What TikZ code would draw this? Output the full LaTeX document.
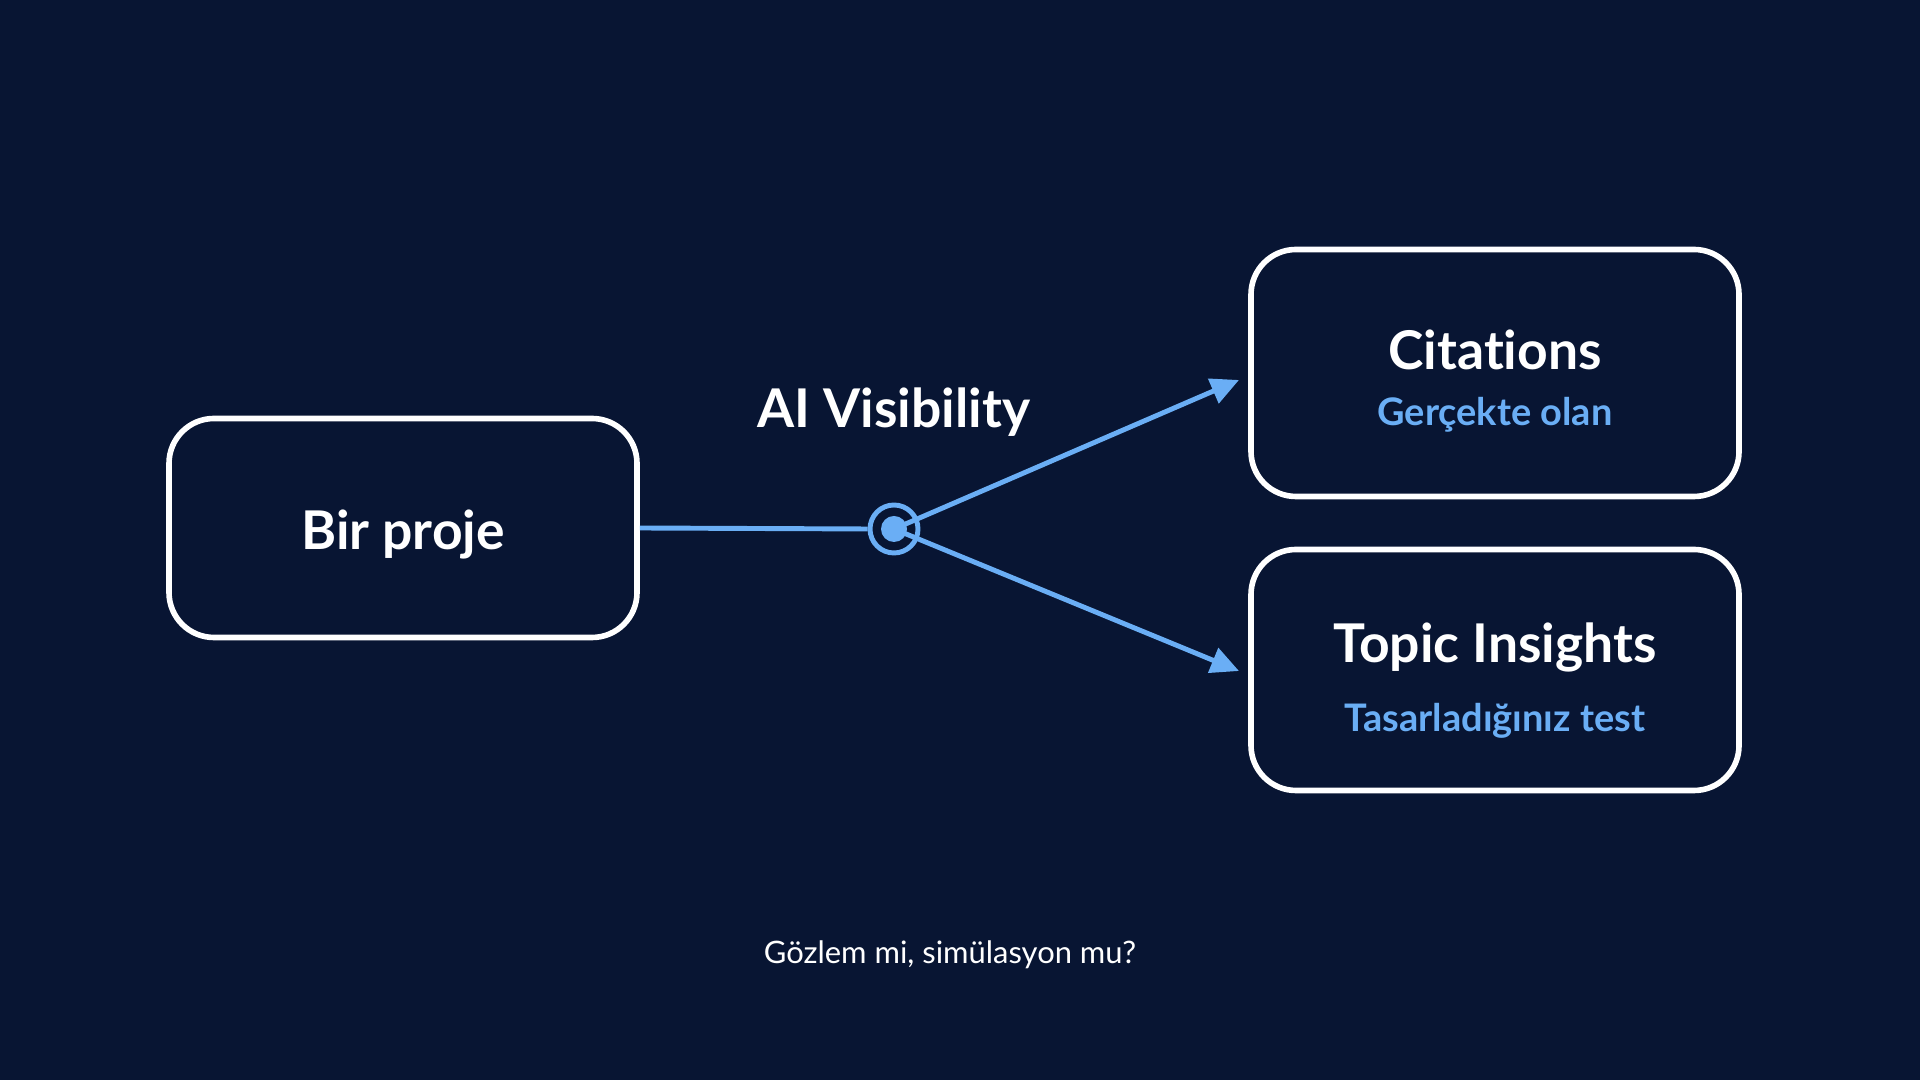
\documentclass[tikz,border=0pt]{standalone}
\usepackage{fontspec}
\setmainfont[Ligatures={NoCommon}]{Lato}
\usetikzlibrary{arrows.meta,positioning}
\definecolor{bgnavy}{HTML}{081533}
\definecolor{lineblue}{HTML}{6AAEF5}
\tikzset{
  box/.style={draw=white,line width=1.6pt,rounded corners=0.45cm,minimum width=4.68cm,minimum height=2.19cm},
  title/.style={text=white,font=\bfseries\fontsize{15.2}{18}\selectfont},
  sub/.style={text=lineblue,font=\bfseries\fontsize{10.8}{13}\selectfont},
  link/.style={draw=lineblue,line width=1.4pt},
}
\begin{document}
\begin{tikzpicture}
\fill[bgnavy] (0,0) rectangle (19.2,10.8);
\useasboundingbox (0,0) rectangle (19.2,10.8);

\node[box]   (proje)  at (4.03,5.52) {};
\node[title]          at (4.03,5.45) {Bir proje};
\node[box,minimum width=4.88cm,minimum height=2.47cm] (cit) at (14.95,7.07) {};
\node[title] (citT)   at (14.95,7.30) {Citations};
\node[sub]            at (14.95,6.65) {Gerçekte olan};
\node[box,minimum width=4.88cm,minimum height=2.41cm] (top) at (14.95,4.10) {};
\node[title] (topT)   at (14.95,4.33) {Topic Insights};
\node[sub]            at (14.95,3.59) {Tasarladığınız test};

\node[title] (vis) at (8.94,6.68) {AI Visibility};
\node[circle,draw=lineblue,line width=1.4pt,minimum size=0.48cm,inner sep=0pt] (hub) at (8.94,5.51) {};
\fill[lineblue] (hub) circle (0.13);
\coordinate (citIn) at (12.39,7.00);
\coordinate (topIn) at (12.39,4.09);

\draw[link] (proje.east) -- (hub.west);
\draw[link,-{Triangle[length=0.28cm,width=0.26cm]}] (hub.center) -- (citIn);
\draw[link,-{Triangle[length=0.28cm,width=0.26cm]}] (hub.center) -- (topIn);

\node[text=white,font=\fontsize{8.8}{10}\selectfont] (soru) at (9.50,1.25) {Gözlem mi, simülasyon mu?};
\end{tikzpicture}
\end{document}
